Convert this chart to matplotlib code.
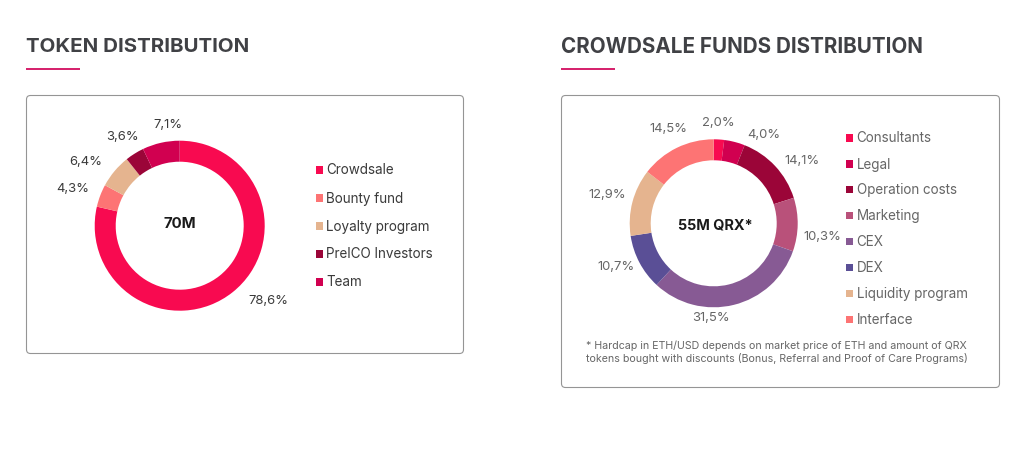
import matplotlib
matplotlib.use('Agg')
import matplotlib.pyplot as plt
from matplotlib.patches import FancyBboxPatch, Rectangle

W, H = 1036, 472

# Token distribution
token_names = ['Crowdsale', 'Bounty fund', 'Loyalty program', 'PreICO Investors', 'Team']
token_values = [78.6, 4.3, 6.4, 3.6, 7.1]
token_labels = ['78,6%', '4,3%', '6,4%', '3,6%', '7,1%']
token_colors = ['#f80a50', '#fd7474', '#e5b48f', '#9b0538', '#d10050']

# Crowdsale funds distribution
funds_names = ['Consultants', 'Legal', 'Operation costs', 'Marketing', 'CEX', 'DEX',
               'Liquidity program', 'Interface']
funds_values = [2.0, 4.0, 14.1, 10.3, 31.5, 10.7, 12.9, 14.5]
funds_labels = ['2,0%', '4,0%', '14,1%', '10,3%', '31,5%', '10,7%', '12,9%', '14,5%']
funds_colors = ['#f80a50', '#d10050', '#9b0538', '#b9517a', '#875a94', '#5a4f96',
                '#e5b48f', '#fd7474']

footnote = ['* Hardcap in ETH/USD depends on market price of ETH and amount of QRX',
            'tokens bought with discounts (Bonus, Referral and Proof of Care Programs)']

# layout, in pixels of the picture
token_label_pos = [(268.5, 301.5), (72.5, 189.5), (85.5, 162), (122.5, 137), (167.5, 125)]
funds_label_pos = [(718, 123.5), (763.5, 134.5), (802.5, 161.5), (822.5, 236.5), (711, 318),
                   (616, 267.5), (607, 194.5), (668, 129.5)]
token_legend_y = [170, 198, 226, 254, 282]
funds_legend_y = [138, 164, 189.5, 215.5, 241.5, 267.5, 293.5, 319.5]

plt.rcParams['font.family'] = ['Inter', 'DejaVu Sans']

fig = plt.figure(figsize=(W / 100, H / 100), dpi=100, facecolor='white')

# background axes in picture pixels, y going down
bg = fig.add_axes([0, 0, 1, 1])
bg.set_xlim(0, W)
bg.set_ylim(H, 0)
bg.axis('off')


def px(size):
    return size * 0.72


def donut(cx, cy, r, inner, values, colors):
    ax = fig.add_axes([(cx - r) / W, 1 - (cy + r) / H, 2 * r / W, 2 * r / H])
    ax.pie(values, colors=colors, startangle=90, counterclock=False, radius=1,
           wedgeprops={'width': 1 - inner / r, 'linewidth': 0})
    ax.set_xlim(-1, 1)
    ax.set_ylim(-1, 1)
    return ax


def card(x0, y0, x1, y1):
    bg.add_patch(FancyBboxPatch((x0 + 4, y0 + 4), x1 - x0 - 8, y1 - y0 - 8,
                                boxstyle='round,pad=4,rounding_size=4',
                                fc='white', ec='#959595', lw=0.8))


def heading(x, text, size):
    bg.text(x, 47, text, fontsize=px(size), fontweight='bold', color='#404145',
            ha='left', va='center')
    bg.add_patch(Rectangle((x, 68), 54, 2, fc='#d6246e', ec='none'))


def legend(x, ys, names, colors, size, color):
    for y, name, c in zip(ys, names, colors):
        bg.add_patch(Rectangle((x - 3.7, y - 3.7), 7.4, 7.4, fc=c, ec='none'))
        bg.text(x + 7, y + 0.5, name, fontsize=px(size), color=color, ha='left', va='center')


heading(26, 'TOKEN DISTRIBUTION', 20.45)
heading(561, 'CROWDSALE FUNDS DISTRIBUTION', 20.6)

card(26.5, 95.5, 463.5, 353.5)
card(561.5, 95.5, 999.5, 387.5)

donut(179.7, 225.7, 85, 64, token_values, token_colors)
donut(713.7, 223.3, 84, 63, funds_values, funds_colors)

bg.text(179.5, 224.5, '70M', fontsize=px(15), fontweight='bold', color='#1a1a1a',
        ha='center', va='center')
bg.text(715.5, 225.5, '55M QRX*', fontsize=px(14.5), fontweight='bold', color='#1a1a1a',
        ha='center', va='center')

for (x, y), label in zip(token_label_pos, token_labels):
    bg.text(x, y, label, fontsize=px(13), color='#3a3a3a', ha='center', va='center')
for (x, y), label in zip(funds_label_pos, funds_labels):
    bg.text(x, y, label, fontsize=px(13), color='#666666', ha='center', va='center')

legend(319.5, token_legend_y, token_names, token_colors, 13.5, '#3a3a3a')
legend(849.7, funds_legend_y, funds_names, funds_colors, 13.5, '#666666')

bg.text(586, 345.5, footnote[0], fontsize=px(10.65), color='#666666', ha='left', va='center')
bg.text(586, 358.5, footnote[1], fontsize=px(10.65), color='#666666', ha='left', va='center')

fig.savefig('out.png', dpi=100)
